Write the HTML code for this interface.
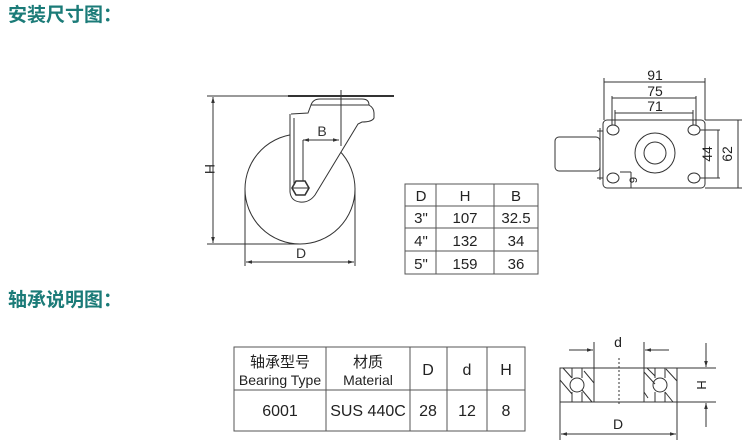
<!DOCTYPE html>
<html><head><meta charset="utf-8"><style>
body{margin:0;background:#fff;width:747px;height:446px;overflow:hidden;position:relative;font-family:"Liberation Sans","Noto Sans CJK SC",sans-serif}
.h{position:absolute;left:8px;color:#1b7b78;font-weight:bold;font-size:19px;font-family:"Noto Sans CJK SC","WenQuanYi Zen Hei",sans-serif;line-height:1}
svg{position:absolute;left:0;top:0}
</style></head><body>
<div class="h" style="top:4px">安装尺寸图：</div>
<div class="h" style="top:289px">轴承说明图：</div>
<svg width="747" height="446" viewBox="0 0 747 446" font-family="Liberation Sans, Noto Sans CJK SC, sans-serif" fill="none" stroke="#333" stroke-width="1">
<defs><marker id="a" viewBox="0 0 10 10" refX="10" refY="5" markerWidth="8" markerHeight="6" orient="auto-start-reverse"><path d="M0,2 L10,5 L0,8z" fill="#333" stroke="none"/></marker></defs>
<!-- caster side view -->
<circle cx="300" cy="189" r="55"/>
<line x1="288" y1="96" x2="394" y2="96" stroke-width="2"/>
<line x1="207" y1="96" x2="288" y2="96"/>
<path d="M311,105 Q313,99 320,99 L362,99 Q369,99 369,105"/>
<line x1="311" y1="105" x2="369" y2="105"/>
<path d="M291,114 L308,113 L311,105 L369,105 Q374,108 374,113 L374,118 Q372,122 362,122 L358,124 L315,195 Q309,203 300,202 Q291,201 290,192 L290,114" fill="#fff"/>
<path d="M294,192 L294,118"/>
<line x1="341" y1="90" x2="341" y2="146"/>
<line x1="303" y1="140" x2="303" y2="188"/>
<line x1="303" y1="140" x2="339" y2="140" marker-start="url(#a)" marker-end="url(#a)"/>
<text x="322" y="136" font-size="14" fill="#333" stroke="none" text-anchor="middle">B</text>
<polygon points="292,188 296,181 305,181 309,188 305,195 296,195" stroke-width="1.6" fill="#fff"/>
<line x1="292" y1="188" x2="309" y2="188"/>
<line x1="213" y1="97" x2="213" y2="243" marker-start="url(#a)" marker-end="url(#a)"/>
<line x1="207" y1="244" x2="300" y2="244"/>
<text x="205" y="169" font-size="14" fill="#333" stroke="none" text-anchor="middle" transform="rotate(90 205 169)">H</text>
<line x1="245" y1="188" x2="245" y2="266"/><line x1="355" y1="188" x2="355" y2="266"/>
<line x1="246" y1="262" x2="354" y2="262" marker-start="url(#a)" marker-end="url(#a)"/>
<text x="301" y="258" font-size="14" fill="#333" stroke="none" text-anchor="middle">D</text>
<!-- table 1 -->
<g stroke="#555">
<rect x="405" y="184" width="133" height="90"/>
<line x1="405" y1="206" x2="538" y2="206"/><line x1="405" y1="228" x2="538" y2="228"/><line x1="405" y1="251" x2="538" y2="251"/>
<line x1="436" y1="184" x2="436" y2="274"/><line x1="494" y1="184" x2="494" y2="274"/>
</g>
<g fill="#222" stroke="none" font-size="15" text-anchor="middle">
<text x="421" y="201">D</text><text x="465" y="201">H</text><text x="516" y="201">B</text>
<text x="421" y="223">3"</text><text x="465" y="223">107</text><text x="516" y="223">32.5</text>
<text x="421" y="246">4"</text><text x="465" y="246">132</text><text x="516" y="246">34</text>
<text x="421" y="269">5"</text><text x="465" y="269">159</text><text x="516" y="269">36</text>
</g>
<!-- top view -->
<rect x="603" y="120" width="102" height="68" rx="4"/>
<rect x="555" y="137" width="45" height="34" rx="4"/>
<line x1="600" y1="128" x2="600" y2="180"/>
<line x1="597" y1="131" x2="603" y2="131"/><line x1="597" y1="178" x2="603" y2="178"/>
<circle cx="655" cy="153" r="20"/><circle cx="655" cy="153" r="11"/>
<ellipse cx="613" cy="130" rx="6" ry="5"/><ellipse cx="694" cy="130" rx="6" ry="5"/>
<ellipse cx="613" cy="178" rx="6" ry="5"/><ellipse cx="694" cy="178" rx="6" ry="5"/>
<line x1="604" y1="78" x2="604" y2="120"/><line x1="705" y1="78" x2="705" y2="120"/>
<line x1="604" y1="82" x2="705" y2="82"/>
<line x1="612" y1="96" x2="612" y2="125"/><line x1="696" y1="96" x2="696" y2="125"/>
<line x1="612" y1="98" x2="696" y2="98"/>
<line x1="615" y1="110" x2="615" y2="125"/><line x1="693" y1="110" x2="693" y2="125"/>
<line x1="615" y1="113" x2="693" y2="113"/>
<line x1="700" y1="130" x2="720" y2="130"/><line x1="700" y1="178" x2="720" y2="178"/>
<line x1="718" y1="130" x2="718" y2="178"/>
<line x1="705" y1="120" x2="742" y2="120"/><line x1="705" y1="188" x2="742" y2="188"/>
<line x1="738" y1="120" x2="738" y2="188"/>
<line x1="620" y1="172" x2="631" y2="172"/><line x1="631" y1="172" x2="631" y2="188"/>
<g fill="#222" stroke="none" font-size="14" text-anchor="middle">
<text x="655" y="80">91</text><text x="655" y="96">75</text><text x="655" y="111">71</text>
<text x="712" y="154" transform="rotate(-90 712 154)">44</text>
<text x="732" y="154" transform="rotate(-90 732 154)">62</text>
<text x="637" y="180" font-size="11" transform="rotate(-90 637 180)">9</text>
</g>
<!-- table 2 -->
<g stroke="#555">
<rect x="234" y="347" width="291" height="84"/>
<line x1="234" y1="390" x2="525" y2="390"/>
<line x1="326" y1="347" x2="326" y2="431"/><line x1="410" y1="347" x2="410" y2="431"/>
<line x1="447" y1="347" x2="447" y2="431"/><line x1="487" y1="347" x2="487" y2="431"/>
</g>
<g fill="#222" stroke="none" text-anchor="middle">
<text x="280" y="367" font-size="15">轴承型号</text>
<text x="280" y="385" font-size="14">Bearing Type</text>
<text x="368" y="367" font-size="15">材质</text>
<text x="368" y="385" font-size="14">Material</text>
<text x="428" y="375" font-size="16">D</text><text x="467" y="375" font-size="16">d</text><text x="506" y="375" font-size="16">H</text>
<text x="280" y="416" font-size="16">6001</text><text x="368" y="416" font-size="16">SUS 440C</text>
<text x="428" y="416" font-size="16">28</text><text x="467" y="416" font-size="16">12</text><text x="506" y="416" font-size="16">8</text>
</g>
<!-- bearing -->
<rect x="560" y="368" width="117" height="34"/>
<line x1="594" y1="342" x2="594" y2="402"/><line x1="644" y1="342" x2="644" y2="402"/>
<line x1="569" y1="350" x2="593" y2="350" marker-end="url(#a)"/>
<line x1="669" y1="350" x2="645" y2="350" marker-end="url(#a)"/>
<line x1="619" y1="358" x2="619" y2="405" stroke-dasharray="2,2"/>
<circle cx="577" cy="385" r="7"/><circle cx="660" cy="385" r="7"/>
<line x1="572" y1="368" x2="572" y2="378"/><line x1="582" y1="368" x2="582" y2="378"/>
<line x1="572" y1="392" x2="572" y2="402"/><line x1="582" y1="392" x2="582" y2="402"/>
<line x1="655" y1="368" x2="655" y2="378"/><line x1="665" y1="368" x2="665" y2="378"/>
<line x1="655" y1="392" x2="655" y2="402"/><line x1="665" y1="392" x2="665" y2="402"/>
<path d="M560,380 L572,394 M563,368 L572,378 M584,371 L594,383 M582,390 L592,402 M644,372 L655,384 M647,368 L655,376 M666,369 L677,381 M665,392 L673,402 M644,392 L648,398"/>
<line x1="677" y1="368" x2="716" y2="368"/><line x1="677" y1="402" x2="716" y2="402"/>
<line x1="706" y1="343" x2="706" y2="367" marker-end="url(#a)"/>
<line x1="706" y1="427" x2="706" y2="403" marker-end="url(#a)"/>
<line x1="560" y1="402" x2="560" y2="440"/><line x1="677" y1="402" x2="677" y2="440"/>
<line x1="561" y1="434" x2="676" y2="434" marker-start="url(#a)" marker-end="url(#a)"/>
<g fill="#222" stroke="none" text-anchor="middle">
<text x="618" y="347" font-size="14">d</text>
<text x="618" y="429" font-size="14">D</text>
<text x="697" y="385" font-size="13" transform="rotate(90 697 385)">H</text>
</g>
</svg>
</body></html>
